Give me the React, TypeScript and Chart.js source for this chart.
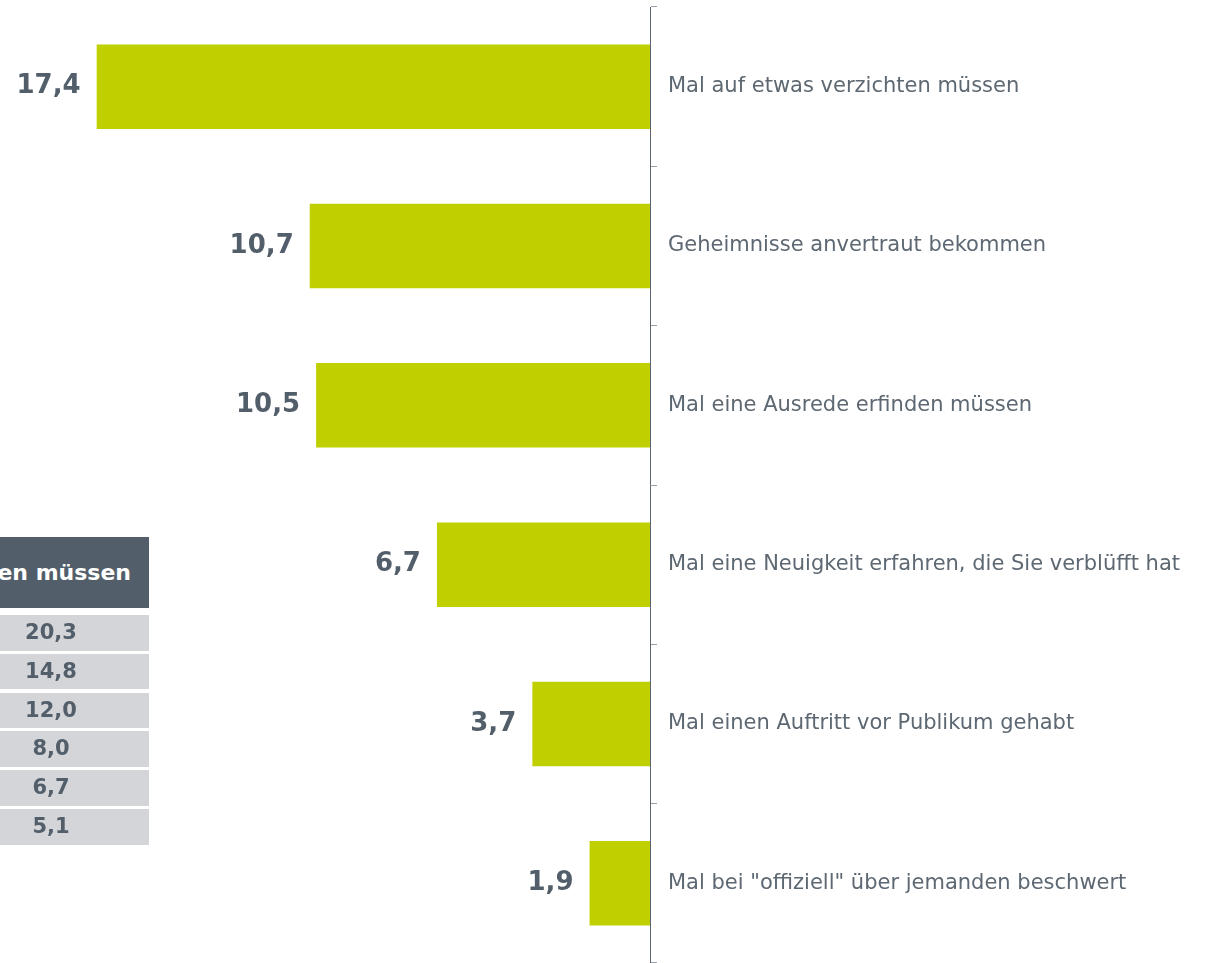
import React, { useEffect, useRef } from "react";
import { Chart, registerables } from "chart.js";

Chart.register(...registerables);

const categories = [
  "Mal auf etwas verzichten müssen",
  "Geheimnisse anvertraut bekommen",
  "Mal eine Ausrede erfinden müssen",
  "Mal eine Neuigkeit erfahren, die Sie verblüfft hat",
  "Mal einen Auftritt vor Publikum gehabt",
  'Mal bei "offiziell" über jemanden beschwert',
];
const values = [17.4, 10.7, 10.5, 6.7, 3.7, 1.9];

const tableHeader = "Mal auf etwas verzichten müssen";
const tableValues = [20.3, 14.8, 12.0, 8.0, 6.7, 5.1];

const FONT = "'DejaVu Sans', Verdana, sans-serif";
const DARK = "#525e6a";

const fmt = (v: number) => v.toFixed(1).replace(".", ",");

const valueLabels = {
  id: "valueLabels",
  afterDatasetsDraw(chart: any) {
    const ctx = chart.ctx;
    const meta = chart.getDatasetMeta(0);
    ctx.save();
    ctx.font = `bold 26px ${FONT}`;
    ctx.fillStyle = DARK;
    ctx.textAlign = "right";
    ctx.textBaseline = "middle";
    meta.data.forEach((bar: any, i: number) => {
      const { x, y } = bar.getProps(["x", "y"], true);
      ctx.fillText(fmt(values[i]), x - 16, y);
    });
    ctx.restore();
  },
};

export default function App() {
  const ref = useRef<HTMLCanvasElement | null>(null);

  useEffect(() => {
    if (!ref.current) return;
    const chart = new Chart(ref.current, {
      type: "bar",
      data: {
        labels: categories,
        datasets: [
          {
            data: values,
            backgroundColor: "#c0cf00",
            categoryPercentage: 1,
            barPercentage: 0.53,
          },
        ],
      },
      options: {
        indexAxis: "y",
        responsive: false,
        animation: false,
        layout: { padding: { left: 14, right: 0, top: 7, bottom: 37 } },
        plugins: {
          legend: { display: false },
          tooltip: { enabled: false },
        },
        scales: {
          x: {
            type: "linear",
            reverse: true,
            min: 0,
            max: 20,
            display: false,
          },
          y: {
            position: "right",
            grid: {
              drawOnChartArea: false,
              drawTicks: true,
              tickLength: 7,
              color: "#9aa1a8",
              offset: true,
            },
            border: { display: true, color: "#5a6570", width: 1 },
            ticks: {
              color: "#5d6872",
              font: { family: FONT, size: 21 },
              padding: 11,
            },
            afterFit(s: any) {
              s.width = 556;
              s.paddingTop = 0;
              s.paddingBottom = 0;
            },
          },
        },
      },
      plugins: [valueLabels],
    } as any);
    return () => chart.destroy();
  }, []);

  const rowTop = 615;
  const pitch = 38.8;
  const rowH = 35.5;

  return (
    <div
      style={{
        position: "fixed",
        left: 0,
        top: 0,
        width: 1206,
        height: 963,
        overflow: "hidden",
        background: "#ffffff",
      }}
    >
      <canvas ref={ref} width={1206} height={1000} style={{ position: "absolute", left: 0, top: 0 }} />
      <div
        style={{
          position: "absolute",
          left: 0,
          top: 537,
          width: 149,
          height: 71,
          background: DARK,
          overflow: "hidden",
        }}
      >
        <div
          style={{
            position: "absolute",
            right: 18,
            top: 0,
            height: 71,
            lineHeight: "71px",
            whiteSpace: "nowrap",
            color: "#ffffff",
            fontFamily: FONT,
            fontWeight: "bold",
            fontSize: 22,
          }}
        >
          {tableHeader}
        </div>
      </div>
      {tableValues.map((v, i) => (
        <div
          key={i}
          style={{
            position: "absolute",
            left: 0,
            top: rowTop + i * pitch,
            width: 149,
            height: rowH,
            background: "#d4d5d9",
            overflow: "hidden",
          }}
        >
          <div
            style={{
              position: "absolute",
              left: -47,
              width: 196,
              top: 0,
              height: rowH,
              lineHeight: `${rowH}px`,
              textAlign: "center",
              color: DARK,
              fontFamily: FONT,
              fontWeight: "bold",
              fontSize: 21,
            }}
          >
            {fmt(v)}
          </div>
        </div>
      ))}
    </div>
  );
}
